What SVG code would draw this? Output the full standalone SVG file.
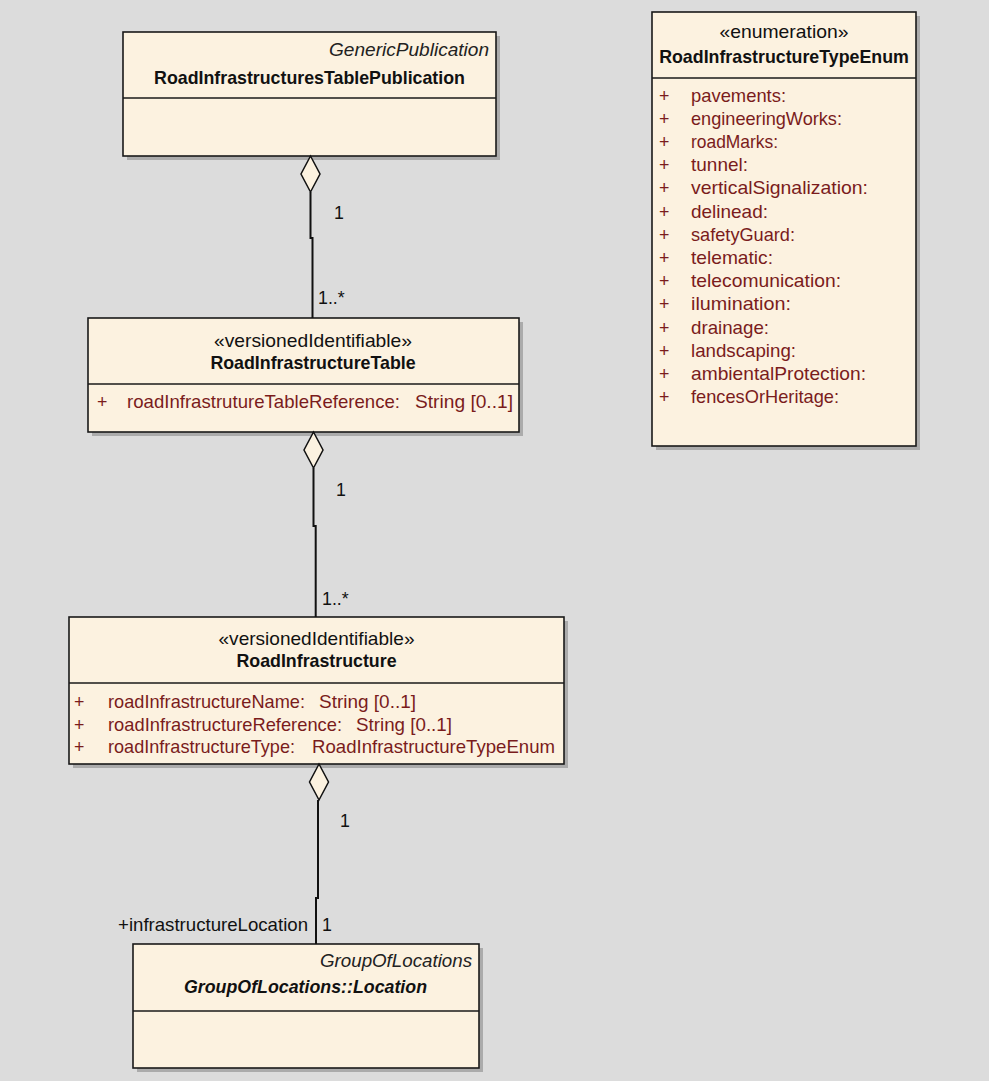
<svg xmlns="http://www.w3.org/2000/svg" width="989" height="1081" viewBox="0 0 989 1081">
<style>
.bg{fill:#dcdcdc}
.box{fill:#fcf2e0;stroke:#1a1a1a;stroke-width:1.6}
.shadow{fill:#ababab}
.div{stroke:#1a1a1a;stroke-width:1.6}
text{font-family:"Liberation Sans",Arial,sans-serif;font-size:17.8px}
.name{font-weight:bold;fill:#111;text-anchor:middle}
.st{fill:#111;text-anchor:middle}
.it{font-style:italic;fill:#222;text-anchor:end}
.attr{fill:#7a1c1c}
.conn{stroke:#111;stroke-width:2;fill:none}
.dia{fill:#fcf2e0;stroke:#111;stroke-width:1.5}
.lbl{fill:#111}
</style>
<rect class="bg" x="0" y="0" width="989" height="1081"/>

<g id="RoadInfrastructuresTablePublication">
<rect class="shadow" x="127" y="36" width="373" height="124"/>
<rect class="box" x="123" y="32" width="373" height="124"/>
<line class="div" x1="123" y1="98" x2="496" y2="98"/>
<text class="it" x="489" y="56" textLength="160" lengthAdjust="spacingAndGlyphs">GenericPublication</text>
<text class="name" x="309.5" y="84">RoadInfrastructuresTablePublication</text>
</g>

<g id="RoadInfrastructureTable">
<rect class="shadow" x="92" y="322" width="431" height="114"/>
<rect class="box" x="88" y="318" width="431" height="114"/>
<line class="div" x1="88" y1="384" x2="519" y2="384"/>
<text class="st" x="313" y="347" textLength="198" lengthAdjust="spacingAndGlyphs">«versionedIdentifiable»</text>
<text class="name" x="313" y="369">RoadInfrastructureTable</text>
<text class="attr" x="97" y="408">+</text>
<text class="attr" x="127" y="408" textLength="273" lengthAdjust="spacingAndGlyphs">roadInfrastrutureTableReference:</text>
<text class="attr" x="415" y="408" textLength="98" lengthAdjust="spacingAndGlyphs">String [0..1]</text>
</g>

<g id="RoadInfrastructure">
<rect class="shadow" x="73" y="621" width="495" height="147"/>
<rect class="box" x="69" y="617" width="495" height="147"/>
<line class="div" x1="69" y1="683" x2="564" y2="683"/>
<text class="st" x="316.5" y="645" textLength="196" lengthAdjust="spacingAndGlyphs">«versionedIdentifiable»</text>
<text class="name" x="316.5" y="667">RoadInfrastructure</text>
<text class="attr" x="74" y="708">+</text>
<text class="attr" x="108" y="708" textLength="197" lengthAdjust="spacingAndGlyphs">roadInfrastructureName:</text>
<text class="attr" x="319" y="708" textLength="97" lengthAdjust="spacingAndGlyphs">String [0..1]</text>
<text class="attr" x="74" y="730.5">+</text>
<text class="attr" x="108" y="730.5" textLength="234" lengthAdjust="spacingAndGlyphs">roadInfrastructureReference:</text>
<text class="attr" x="356" y="730.5" textLength="96" lengthAdjust="spacingAndGlyphs">String [0..1]</text>
<text class="attr" x="74" y="753">+</text>
<text class="attr" x="108" y="753" textLength="187" lengthAdjust="spacingAndGlyphs">roadInfrastructureType:</text>
<text class="attr" x="312" y="753" textLength="243" lengthAdjust="spacingAndGlyphs">RoadInfrastructureTypeEnum</text>
</g>

<g id="Location">
<rect class="shadow" x="137" y="948" width="346" height="124"/>
<rect class="box" x="133" y="944" width="346" height="124"/>
<line class="div" x1="133" y1="1011" x2="479" y2="1011"/>
<text class="it" x="472" y="967" textLength="152" lengthAdjust="spacingAndGlyphs">GroupOfLocations</text>
<text class="name" x="305.5" y="993" font-style="italic">GroupOfLocations::Location</text>
</g>

<g id="RoadInfrastructureTypeEnum">
<rect class="shadow" x="656" y="16" width="264" height="434"/>
<rect class="box" x="652" y="12" width="264" height="434"/>
<line class="div" x1="652" y1="78" x2="916" y2="78"/>
<text class="st" x="784" y="38" textLength="129" lengthAdjust="spacingAndGlyphs">«enumeration»</text>
<text class="name" x="784" y="63">RoadInfrastructureTypeEnum</text>
<g class="attr">
<text x="659" y="101.5">+</text><text x="691" y="101.5" textLength="95" lengthAdjust="spacingAndGlyphs">pavements:</text>
<text x="659" y="124.7">+</text><text x="691" y="124.7" textLength="151" lengthAdjust="spacingAndGlyphs">engineeringWorks:</text>
<text x="659" y="147.9">+</text><text x="691" y="147.9" textLength="87" lengthAdjust="spacingAndGlyphs">roadMarks:</text>
<text x="659" y="171.1">+</text><text x="691" y="171.1" textLength="57" lengthAdjust="spacingAndGlyphs">tunnel:</text>
<text x="659" y="194.3">+</text><text x="691" y="194.3" textLength="177" lengthAdjust="spacingAndGlyphs">verticalSignalization:</text>
<text x="659" y="217.5">+</text><text x="691" y="217.5" textLength="77" lengthAdjust="spacingAndGlyphs">delinead:</text>
<text x="659" y="240.7">+</text><text x="691" y="240.7" textLength="104" lengthAdjust="spacingAndGlyphs">safetyGuard:</text>
<text x="659" y="263.9">+</text><text x="691" y="263.9" textLength="82" lengthAdjust="spacingAndGlyphs">telematic:</text>
<text x="659" y="287.1">+</text><text x="691" y="287.1" textLength="150" lengthAdjust="spacingAndGlyphs">telecomunication:</text>
<text x="659" y="310.3">+</text><text x="691" y="310.3" textLength="100" lengthAdjust="spacingAndGlyphs">ilumination:</text>
<text x="659" y="333.5">+</text><text x="691" y="333.5" textLength="78" lengthAdjust="spacingAndGlyphs">drainage:</text>
<text x="659" y="356.7">+</text><text x="691" y="356.7" textLength="105" lengthAdjust="spacingAndGlyphs">landscaping:</text>
<text x="659" y="379.9">+</text><text x="691" y="379.9" textLength="175" lengthAdjust="spacingAndGlyphs">ambientalProtection:</text>
<text x="659" y="403.1">+</text><text x="691" y="403.1" textLength="148" lengthAdjust="spacingAndGlyphs">fencesOrHeritage:</text>
</g>
</g>

<g id="connectors">
<path class="conn" d="M310.5 192 V238 H312.5 V318"/>
<polygon class="dia" points="310.5,156 320,174 310.5,192 301,174"/>
<text class="lbl" x="334" y="219">1</text>
<text class="lbl" x="318" y="304">1..*</text>

<path class="conn" d="M313.5 468 V526 H315.7 V617"/>
<polygon class="dia" points="313.5,432 323,450 313.5,468 304,450"/>
<text class="lbl" x="336" y="496">1</text>
<text class="lbl" x="322" y="605">1..*</text>

<path class="conn" d="M318 800 V898 H316 V944"/>
<polygon class="dia" points="319,764 328.5,782 319,800 309.5,782"/>
<text class="lbl" x="340" y="827">1</text>
<text class="lbl" x="308" y="931" text-anchor="end" textLength="190" lengthAdjust="spacingAndGlyphs">+infrastructureLocation</text>
<text class="lbl" x="322" y="931">1</text>
</g>
</svg>
